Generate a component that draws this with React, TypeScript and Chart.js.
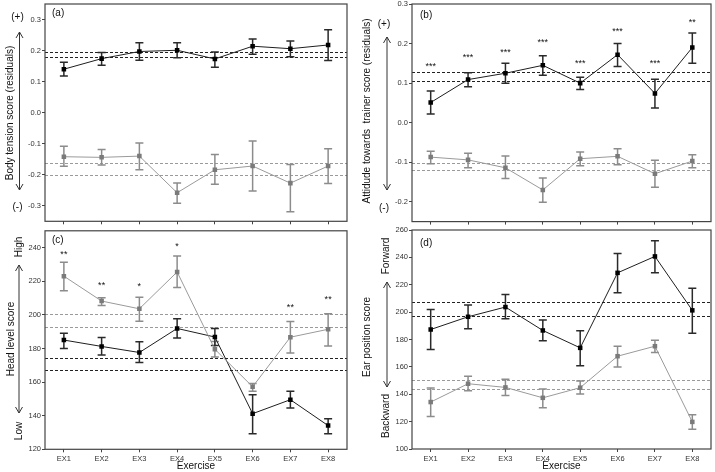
import React, { useEffect, useRef } from 'react';
import { Chart, registerables } from 'chart.js';

Chart.register(...registerables);

const W = 715;
const H = 472;
const FONT = '"Liberation Sans", Arial, Helvetica, sans-serif';

// ---------- data ----------
const categories = ['EX1', 'EX2', 'EX3', 'EX4', 'EX5', 'EX6', 'EX7', 'EX8'];

// (a) Body tension score (residuals)
const aTicks = [-0.3, -0.2, -0.1, 0.0, 0.1, 0.2, 0.3];
const aBlackMean = [0.140, 0.174, 0.197, 0.201, 0.173, 0.214, 0.206, 0.218];
const aBlackLow = [0.118, 0.153, 0.169, 0.177, 0.146, 0.188, 0.180, 0.168];
const aBlackHigh = [0.162, 0.194, 0.225, 0.225, 0.195, 0.237, 0.231, 0.267];
const aGrayMean = [-0.142, -0.144, -0.140, -0.258, -0.184, -0.172, -0.227, -0.172];
const aGrayLow = [-0.173, -0.169, -0.184, -0.292, -0.231, -0.252, -0.319, -0.228];
const aGrayHigh = [-0.108, -0.119, -0.098, -0.227, -0.135, -0.091, -0.167, -0.116];
const aRefBlack = [0.196, 0.178];
const aRefGray = [-0.161, -0.200];

// (b) Attitude towards trainer score (residuals)
const bTicks = [-0.2, -0.1, 0.0, 0.1, 0.2, 0.3];
const bBlackMean = [0.051, 0.109, 0.125, 0.145, 0.100, 0.172, 0.074, 0.190];
const bBlackLow = [0.022, 0.091, 0.100, 0.120, 0.084, 0.142, 0.037, 0.150];
const bBlackHigh = [0.080, 0.126, 0.150, 0.169, 0.115, 0.200, 0.110, 0.227];
const bGrayMean = [-0.087, -0.094, -0.114, -0.170, -0.091, -0.085, -0.129, -0.097];
const bGrayLow = [-0.104, -0.114, -0.141, -0.201, -0.109, -0.106, -0.163, -0.114];
const bGrayHigh = [-0.072, -0.077, -0.084, -0.140, -0.074, -0.066, -0.095, -0.081];
const bRefBlack = [0.127, 0.105];
const bRefGray = [-0.102, -0.119];
const bStars = ['***', '***', '***', '***', '***', '***', '***', '**'];
const bStarLevel = [0.149, 0.172, 0.184, 0.208, 0.155, 0.236, 0.155, 0.259];

// (c) Head level score
const cTicks = [120, 140, 160, 180, 200, 220, 240];
const cBlackMean = [185.0, 181.2, 177.6, 191.9, 186.8, 141.2, 149.5, 134.1];
const cBlackLow = [180.0, 176.1, 171.7, 186.2, 181.8, 129.3, 144.6, 129.3];
const cBlackHigh = [189.1, 186.5, 184.0, 197.6, 191.8, 152.5, 154.5, 138.2];
const cGrayMean = [223.0, 208.2, 203.6, 225.5, 179.5, 157.2, 186.7, 191.4];
const cGrayLow = [214.4, 205.5, 196.2, 216.3, 174.9, 154.5, 177.3, 181.4];
const cGrayHigh = [231.3, 210.2, 210.5, 235.0, 184.2, 159.2, 196.1, 200.6];
const cRefBlack = [174.2, 166.9];
const cRefGray = [200.6, 193.0];
const cStars = ['**', '**', '*', '*', '', '', '**', '**'];
const cStarLevel = [237.1, 218.9, 218.3, 242.3, 0, 0, 206.0, 210.4];

// (d) Ear position score
const dTicks = [100, 120, 140, 160, 180, 200, 220, 240, 260];
const dBlackMean = [187.3, 196.6, 203.7, 186.6, 173.9, 228.7, 240.7, 201.3];
const dBlackLow = [172.7, 187.8, 195.2, 179.0, 160.9, 214.2, 228.7, 184.6];
const dBlackHigh = [202.0, 205.2, 212.8, 194.2, 186.4, 242.9, 252.2, 217.4];
const dGrayMean = [134.3, 147.7, 145.0, 137.4, 144.8, 167.8, 175.1, 119.8];
const dGrayLow = [123.7, 142.6, 139.1, 130.1, 140.1, 159.9, 170.5, 114.4];
const dGrayHigh = [144.5, 153.1, 150.9, 143.8, 149.7, 175.1, 179.5, 125.0];
const dRefBlack = [207.4, 197.4];
const dRefGray = [150.2, 143.5];

// ---------- panel layout ----------
type Panel = {
  area: { l: number; t: number; r: number; b: number };
  min: number; max: number; ticks: number[]; decimals: number;
  blackMean: number[]; blackLow: number[]; blackHigh: number[];
  grayMean: number[]; grayLow: number[]; grayHigh: number[];
  refBlack: number[]; refGray: number[];
  stars?: string[]; starLevel?: number[];
  showX: boolean;
  letter: string; letterPos: [number, number];
  title: string; titlePos: [number, number];
  arrow: [number, number, number];
  ends: { text: string; x: number; y: number; rotate: boolean }[];
};

const YW = 45;
const XH = 20;

const panels: Panel[] = [
  {
    area: { l: 45, t: 3.4, r: 347, b: 221.3 }, min: -0.35, max: 0.35, ticks: aTicks, decimals: 1,
    blackMean: aBlackMean, blackLow: aBlackLow, blackHigh: aBlackHigh,
    grayMean: aGrayMean, grayLow: aGrayLow, grayHigh: aGrayHigh,
    refBlack: aRefBlack, refGray: aRefGray, showX: false,
    letter: '(a)', letterPos: [52, 13],
    title: 'Body tension score (residuals)', titlePos: [10.5, 113],
    arrow: [19.5, 32, 190],
    ends: [
      { text: '(+)', x: 17.5, y: 17, rotate: false },
      { text: '(-)', x: 17.5, y: 207, rotate: false },
    ],
  },
  {
    area: { l: 412, t: 2.5, r: 713, b: 221.6 }, min: -0.25, max: 0.3, ticks: bTicks, decimals: 1,
    blackMean: bBlackMean, blackLow: bBlackLow, blackHigh: bBlackHigh,
    grayMean: bGrayMean, grayLow: bGrayLow, grayHigh: bGrayHigh,
    refBlack: bRefBlack, refGray: bRefGray, stars: bStars, starLevel: bStarLevel, showX: false,
    letter: '(b)', letterPos: [420, 15],
    title: 'Attidude towards  trainer score (residuals)', titlePos: [367, 111],
    arrow: [387, 37, 190],
    ends: [
      { text: '(+)', x: 384, y: 24, rotate: false },
      { text: '(-)', x: 384, y: 208, rotate: false },
    ],
  },
  {
    area: { l: 45, t: 230.8, r: 347, b: 449.3 }, min: 120, max: 250, ticks: cTicks, decimals: 0,
    blackMean: cBlackMean, blackLow: cBlackLow, blackHigh: cBlackHigh,
    grayMean: cGrayMean, grayLow: cGrayLow, grayHigh: cGrayHigh,
    refBlack: cRefBlack, refGray: cRefGray, stars: cStars, starLevel: cStarLevel, showX: true,
    letter: '(c)', letterPos: [52, 240],
    title: 'Head level score', titlePos: [11, 339],
    arrow: [19, 265, 413],
    ends: [
      { text: 'High', x: 19, y: 247, rotate: true },
      { text: 'Low', x: 19, y: 431, rotate: true },
    ],
  },
  {
    area: { l: 412, t: 230, r: 713, b: 449 }, min: 100, max: 260, ticks: dTicks, decimals: 0,
    blackMean: dBlackMean, blackLow: dBlackLow, blackHigh: dBlackHigh,
    grayMean: dGrayMean, grayLow: dGrayLow, grayHigh: dGrayHigh,
    refBlack: dRefBlack, refGray: dRefGray, showX: true,
    letter: '(d)', letterPos: [420, 243],
    title: 'Ear position score', titlePos: [367, 337],
    arrow: [387, 282, 387],
    ends: [
      { text: 'Forward', x: 386, y: 256, rotate: true },
      { text: 'Backward', x: 386, y: 416, rotate: true },
    ],
  },
];

function vtext(ctx: CanvasRenderingContext2D, text: string, x: number, y: number) {
  ctx.save();
  ctx.translate(x, y);
  ctx.rotate(-Math.PI / 2);
  ctx.textAlign = 'center';
  ctx.textBaseline = 'middle';
  ctx.fillText(text, 0, 0);
  ctx.restore();
}

function makePlugin(p: Panel) {
  const drawErr = (chart: any, low: number[], high: number[], color: string) => {
    const ctx = chart.ctx as CanvasRenderingContext2D;
    const xs = chart.scales.x;
    const ys = chart.scales.y;
    ctx.save();
    ctx.strokeStyle = color;
    ctx.lineWidth = 1.5;
    ctx.beginPath();
    for (let i = 0; i < low.length; i++) {
      const x = xs.getPixelForValue(i);
      const y1 = ys.getPixelForValue(low[i]);
      const y2 = ys.getPixelForValue(high[i]);
      ctx.moveTo(x, y1);
      ctx.lineTo(x, y2);
      ctx.moveTo(x - 4, y1);
      ctx.lineTo(x + 4, y1);
      ctx.moveTo(x - 4, y2);
      ctx.lineTo(x + 4, y2);
    }
    ctx.stroke();
    ctx.restore();
  };
  const drawRef = (chart: any, vals: number[], color: string) => {
    const ctx = chart.ctx as CanvasRenderingContext2D;
    const ys = chart.scales.y;
    const a = chart.chartArea;
    ctx.save();
    ctx.strokeStyle = color;
    ctx.lineWidth = 1;
    ctx.setLineDash([3, 2]);
    for (const v of vals) {
      const y = Math.round(ys.getPixelForValue(v)) + 0.5;
      ctx.beginPath();
      ctx.moveTo(a.left, y);
      ctx.lineTo(a.right, y);
      ctx.stroke();
    }
    ctx.restore();
  };
  return {
    id: 'panelDeco',
    beforeDatasetsDraw(chart: any) {
      drawRef(chart, p.refGray, '#9a9a9a');
      drawRef(chart, p.refBlack, '#222');
      drawErr(chart, p.grayLow, p.grayHigh, '#8c8c8c');
      drawErr(chart, p.blackLow, p.blackHigh, '#2a2a2a');
    },
    afterDraw(chart: any) {
      const ctx = chart.ctx as CanvasRenderingContext2D;
      const a = chart.chartArea;
      const xs = chart.scales.x;
      const ys = chart.scales.y;
      ctx.save();
      // frame
      ctx.strokeStyle = '#444';
      ctx.lineWidth = 1.2;
      ctx.strokeRect(a.left, a.top, a.right - a.left, a.bottom - a.top);
      ctx.fillStyle = '#111';
      // panel letter
      ctx.font = `10px ${FONT}`;
      ctx.textAlign = 'left';
      ctx.textBaseline = 'middle';
      ctx.fillText(p.letter, p.letterPos[0], p.letterPos[1]);
      // significance stars
      if (p.stars && p.starLevel) {
        ctx.font = `9px ${FONT}`;
        ctx.textAlign = 'center';
        ctx.textBaseline = 'alphabetic';
        for (let i = 0; i < p.stars.length; i++) {
          if (!p.stars[i]) continue;
          const x = xs.getPixelForValue(i);
          const y = ys.getPixelForValue(p.starLevel[i]);
          ctx.fillText(p.stars[i], x, y + 5);
        }
      }
      // y title
      ctx.font = `10px ${FONT}`;
      vtext(ctx, p.title, p.titlePos[0], p.titlePos[1]);
      // ends
      for (const e of p.ends) {
        ctx.font = `10px ${FONT}`;
        if (e.rotate) vtext(ctx, e.text, e.x, e.y);
        else {
          ctx.textAlign = 'center';
          ctx.textBaseline = 'middle';
          ctx.fillText(e.text, e.x, e.y);
        }
      }
      // double-headed arrow
      const [ax, ay1, ay2] = p.arrow;
      ctx.strokeStyle = '#333';
      ctx.lineWidth = 1;
      ctx.beginPath();
      ctx.moveTo(ax, ay1);
      ctx.lineTo(ax, ay2);
      ctx.moveTo(ax - 3.5, ay1 + 6);
      ctx.lineTo(ax, ay1);
      ctx.lineTo(ax + 3.5, ay1 + 6);
      ctx.moveTo(ax - 3.5, ay2 - 6);
      ctx.lineTo(ax, ay2);
      ctx.lineTo(ax + 3.5, ay2 - 6);
      ctx.stroke();
      // x title
      if (p.showX) {
        ctx.font = `10px ${FONT}`;
        ctx.textAlign = 'center';
        ctx.textBaseline = 'middle';
        ctx.fillStyle = '#111';
        ctx.fillText('Exercise', (a.left + a.right) / 2, 466);
      }
      ctx.restore();
    },
  };
}

function PanelChart({ p }: { p: Panel }) {
  const ref = useRef<HTMLCanvasElement | null>(null);
  useEffect(() => {
    if (!ref.current) return;
    const chart = new Chart(ref.current, {
      type: 'line',
      data: {
        labels: categories,
        datasets: [
          {
            data: p.grayMean,
            borderColor: '#9a9a9a',
            borderWidth: 1,
            pointStyle: 'rect',
            pointRadius: 3.2,
            pointBackgroundColor: '#7a7a7a',
            pointBorderColor: '#7a7a7a',
            pointBorderWidth: 0,
            tension: 0,
            fill: false,
          },
          {
            data: p.blackMean,
            borderColor: '#1e1e1e',
            borderWidth: 1,
            pointStyle: 'rect',
            pointRadius: 3.2,
            pointBackgroundColor: '#000',
            pointBorderColor: '#000',
            pointBorderWidth: 0,
            tension: 0,
            fill: false,
          },
        ],
      },
      options: {
        responsive: false,
        animation: false,
        events: [],
        layout: {
          padding: {
            left: p.area.l - YW,
            right: W - p.area.r,
            top: p.area.t,
            bottom: H - p.area.b - XH,
          },
        },
        plugins: { legend: { display: false }, tooltip: { enabled: false }, title: { display: false } },
        scales: {
          x: {
            type: 'category',
            offset: true,
            grid: { display: true, drawOnChartArea: false, drawTicks: true, tickLength: 3, color: '#444' },
            border: { display: false },
            ticks: {
              display: p.showX,
              autoSkip: false,
              maxRotation: 0,
              padding: 2,
              color: '#333',
              font: { family: FONT, size: 7.5 },
            },
            afterFit: (s: any) => {
              s.height = XH;
              s.paddingLeft = 0;
              s.paddingRight = 0;
            },
          },
          y: {
            type: 'linear',
            min: p.min,
            max: p.max,
            afterBuildTicks: (s: any) => {
              s.ticks = p.ticks.map((v) => ({ value: v }));
            },
            grid: { display: true, drawOnChartArea: false, drawTicks: true, tickLength: 3, color: '#444' },
            border: { display: false },
            ticks: {
              padding: 1,
              color: '#333',
              font: { family: FONT, size: 7.5 },
              callback: (v: any) => Number(v).toFixed(p.decimals),
            },
            afterFit: (s: any) => {
              s.width = YW;
              s.paddingTop = 0;
              s.paddingBottom = 0;
            },
          },
        },
      },
      plugins: [makePlugin(p)],
    } as any);
    return () => chart.destroy();
  }, [p]);
  return (
    <canvas
      ref={ref}
      width={W}
      height={H}
      style={{ position: 'absolute', left: 0, top: 0, width: W, height: H }}
    />
  );
}

export default function App() {
  return (
    <div style={{ position: 'fixed', left: 0, top: 0, width: W, height: H, background: '#fff', overflow: 'hidden' }}>
      {panels.map((p, i) => (
        <PanelChart key={i} p={p} />
      ))}
    </div>
  );
}
